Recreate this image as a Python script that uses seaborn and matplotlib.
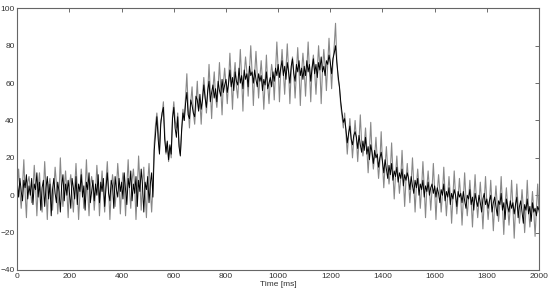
import matplotlib.pyplot as plt
import numpy as np
import pandas as pd
import seaborn as sns

# sampled every 5 ms, one row = 100 ms
time_ms = np.arange(0, 2001, 5)

gray_trace = [
    6, 14, 2, -7, 5, 19, 1, -12, 7, 10, 3, -4, 2, 16, 5, -11, 4, 12, 0, -9,
    2, 18, 4, -13, 5, 9, 1, -8, 3, 15, 6, -10, 1, 20, 3, -6, 4, 13, 2, -12,
    5, 11, 0, -9, 4, 17, 3, -13, 1, 14, 6, -7, 3, 19, 2, -11, 5, 10, 4, -8,
    2, 16, 6, -11, 3, 13, 1, -9, 7, 18, 4, -13, 2, 11, 5, -6, 3, 17, 7, -10,
    4, 12, 6, -11, 5, 19, 3, -7, 8, 14, 5, -13, 3, 21, 7, -8, 6, 15, 2, -12,
    7, 17, 3, -9, 5, 28, 38, 44, 36, 24, 40, 43, 50, 34, 22, 28, 18, 26, 20, 42,
    50, 40, 36, 44, 28, 22, 34, 46, 40, 52, 65, 47, 36, 50, 58, 44, 38, 49, 61, 46,
    50, 38, 53, 63, 54, 44, 55, 70, 56, 41, 57, 66, 53, 47, 58, 71, 57, 43, 60, 68,
    59, 49, 61, 76, 62, 46, 63, 71, 58, 52, 64, 78, 63, 45, 65, 74, 66, 53, 67, 80,
    66, 48, 65, 77, 64, 52, 63, 72, 61, 46, 60, 75, 59, 49, 62, 70, 65, 51, 67, 82,
    68, 50, 67, 78, 66, 54, 68, 81, 67, 49, 66, 74, 65, 52, 66, 79, 67, 48, 66, 76,
    67, 53, 68, 82, 67, 50, 68, 75, 66, 54, 67, 80, 68, 49, 67, 78, 69, 56, 70, 84,
    70, 57, 71, 80, 92, 72, 62, 58, 48, 42, 36, 44, 33, 22, 32, 41, 31, 20, 30, 40,
    30, 18, 29, 43, 28, 21, 27, 36, 25, 12, 24, 39, 22, 14, 21, 31, 19, 9, 18, 34,
    17, 4, 16, 26, 14, 6, 13, 28, 12, -2, 11, 21, 10, 1, 9, 24, 9, -6, 8, 17,
    7, -4, 7, 20, 6, -9, 5, 14, 5, -7, 4, 18, 4, -12, 4, 13, 3, -8, 3, 17,
    3, -13, 2, 11, 2, -9, 1, 15, 1, -11, 0, 10, 0, -15, -1, 13, 0, -10, -1, 9,
    -1, -16, -2, 12, -2, -11, -2, 8, -3, -17, -2, 11, -3, -12, -3, 7, -4, -18, -3, 10,
    -4, -13, -4, 8, -5, -19, -5, 5, -5, -14, -4, 10, -6, -21, -5, 4, -6, -16, -6, 8,
    -6, -23, -7, 6, -6, -15, -7, 3, -7, -20, -8, 8, -7, -17, -8, 2, -8, -22, -8, 6,
    -9,
]

black_trace = [
    7, -1, 9, 2, -3, 8, 4, 11, -2, 5, 0, 9, -5, 6, 3, 12, -1, 7, -8, 4,
    8, -6, 4, 10, -2, 6, -11, 3, 9, 1, -4, 7, 2, -9, 5, 11, -3, 6, 0, 8,
    1, -7, 9, 4, -2, 10, -5, 6, 2, 11, -1, 5, -8, 7, 3, 12, -4, 2, 8, -3,
    6, 0, 11, -4, 7, 2, 9, -6, 4, 12, 1, -3, 8, 5, -7, 10, 3, -1, 9, 2,
    7, -2, 12, 3, -5, 9, 4, 13, -3, 6, 1, 10, -6, 8, 2, 14, 5, -9, 7, 3,
    10, -4, 6, 12, -1, 24, 33, 42, 30, 22, 38, 44, 47, 30, 23, 29, 19, 27, 22, 41,
    47, 36, 31, 42, 26, 21, 35, 44, 40, 49, 55, 43, 41, 51, 48, 44, 42, 53, 51, 45,
    54, 46, 51, 59, 52, 47, 56, 61, 50, 55, 59, 52, 57, 50, 61, 56, 53, 62, 55, 59,
    62, 55, 60, 67, 58, 63, 56, 66, 61, 59, 68, 60, 64, 57, 67, 62, 65, 58, 69, 64,
    66, 60, 67, 62, 58, 65, 61, 64, 56, 62, 59, 66, 57, 60, 63, 58, 66, 61, 68, 64,
    70, 63, 68, 72, 64, 69, 62, 71, 66, 60, 69, 73, 65, 61, 70, 66, 72, 64, 68, 62,
    69, 64, 72, 66, 70, 61, 68, 73, 65, 70, 63, 71, 67, 74, 66, 69, 64, 72, 70, 75,
    71, 65, 73, 76, 80, 71, 64, 58, 50, 44, 39, 41, 35, 28, 33, 37, 30, 27, 32, 34,
    31, 25, 32, 27, 23, 29, 24, 31, 22, 26, 19, 27, 23, 17, 24, 20, 22, 15, 20, 23,
    18, 12, 19, 14, 9, 16, 11, 17, 8, 13, 10, 15, 7, 12, 9, 14, 5, 11, 8, 12,
    9, 3, 10, 5, 1, 8, 4, 9, 0, 6, 3, 8, -1, 5, 2, 7, 0, 4, 6, 1,
    5, -1, 4, 1, -4, 3, 0, 6, -3, 2, -1, 4, -5, 1, -2, 3, 0, -6, 2, -1,
    1, -4, 2, -3, -7, 0, -2, 3, -5, -1, -8, 1, -3, -6, 0, -4, -9, -2, 1, -5,
    -2, -7, -3, 0, -9, -4, -1, -6, -11, -3, -5, 1, -8, -4, -13, -2, -6, -9, -3, -7,
    -4, -10, -5, -1, -12, -6, -3, -9, -15, -5, -8, -2, -10, -6, -14, -4, -9, -7, -11, -6,
    -8,
]

x_ticks = [0, 200, 400, 600, 800, 1000, 1200, 1400, 1600, 1800, 2000]
y_ticks = [-40, -20, 0, 20, 40, 60, 80, 100]


def plot_traces() -> None:

    sns.set_theme(style="white")
    plt.rcParams["font.family"] = ["Liberation Sans", "DejaVu Sans"]

    data = pd.DataFrame({"Time [ms]": time_ms, "gray": gray_trace, "black": black_trace})

    fig = plt.figure(figsize=(5.51, 2.98), dpi=100)
    ax = fig.add_axes([0.0314, 0.094, 0.9468, 0.878])

    sns.lineplot(data=data, x="Time [ms]", y="gray", color="#888888", lw=0.8, ax=ax)
    sns.lineplot(data=data, x="Time [ms]", y="black", color="black", lw=0.7, ax=ax)

    ax.set(xlim=(0, 2000), ylim=(-40, 100), xticks=x_ticks, yticks=y_ticks)
    ax.set_ylabel("")
    ax.set_xlabel("Time [ms]", fontsize=6, labelpad=1, color="#333333")

    ax.tick_params(direction="in", top=True, right=True, length=3, width=0.6,
                   labelsize=6, pad=2, colors="#555555", labelcolor="#333333")
    for spine in ax.spines.values():
        spine.set_color("#666666")
        spine.set_linewidth(0.8)

    fig.savefig("out.png", dpi=100)

    return


if __name__ == "__main__":

    assert len(gray_trace) == len(time_ms) == len(black_trace)
    plot_traces()
